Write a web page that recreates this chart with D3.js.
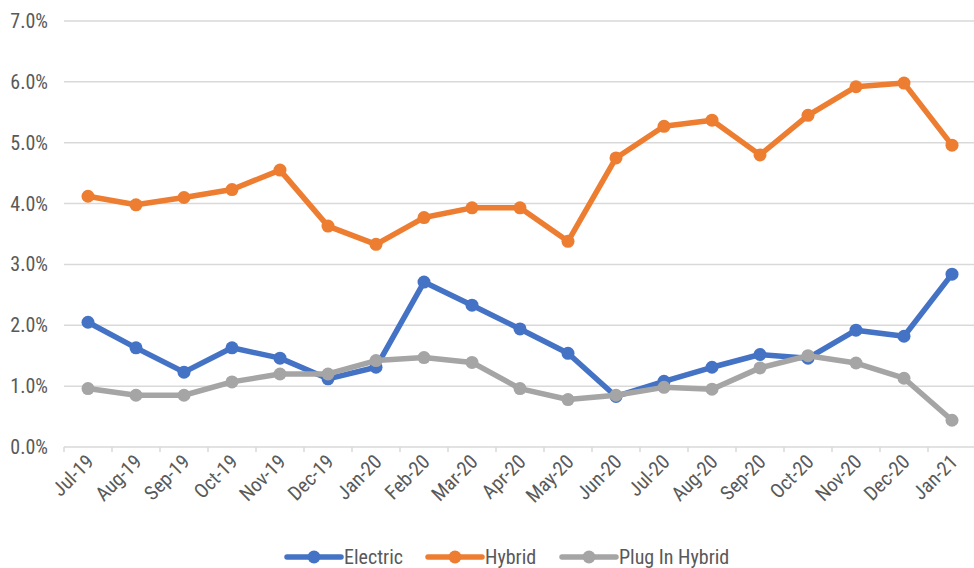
<!DOCTYPE html>
<html lang="en">
<head>
<meta charset="UTF-8">
<title>EV share</title>
<style>
  body { margin: 0; background: #fff; }
  svg text { font-family: "Liberation Sans Narrow", "Roboto Condensed", sans-serif; fill: #595959; }
</style>
</head>
<body>
<svg id="chart" width="974" height="568"></svg>
<script src="https://d3js.org/d3.v7.min.js"></script>
<script>
// months on the x axis
var months = ["Jul-19","Aug-19","Sep-19","Oct-19","Nov-19","Dec-19","Jan-20","Feb-20","Mar-20","Apr-20",
              "May-20","Jun-20","Jul-20","Aug-20","Sep-20","Oct-20","Nov-20","Dec-20","Jan-21"];

// share of sales, in percent
var electric = [2.05,1.63,1.23,1.63,1.46,1.12,1.31,2.71,2.33,1.94,1.54,0.83,1.08,1.31,1.52,1.46,1.92,1.82,2.84];
var hybrid   = [4.12,3.98,4.10,4.23,4.55,3.63,3.33,3.77,3.93,3.93,3.38,4.75,5.27,5.37,4.80,5.45,5.92,5.98,4.96];
var plugIn   = [0.96,0.85,0.85,1.07,1.20,1.20,1.42,1.47,1.39,0.96,0.78,0.85,0.98,0.95,1.30,1.50,1.38,1.13,0.44];

var yTicks = [0,1,2,3,4,5,6,7];

var series = [
  { name: "Electric", values: electric, color: "#4472C4" },
  { name: "Hybrid", values: hybrid, color: "#ED7D31" },
  { name: "Plug In Hybrid", values: plugIn, color: "#A5A5A5" }
];

var svg = d3.select("#chart");

var x = d3.scaleBand().domain(months).range([64, 976]);
var y = d3.scaleLinear().domain([0, 7]).range([447, 21]);

// gridlines
svg.append("g")
  .selectAll("line")
  .data(yTicks)
  .enter().append("line")
  .attr("x1", 64).attr("x2", 974)
  .attr("y1", function(d) { return y(d); })
  .attr("y2", function(d) { return y(d); })
  .attr("stroke", "#d9d9d9")
  .attr("stroke-width", 1.5);

// y labels
svg.append("g")
  .selectAll("text")
  .data(yTicks)
  .enter().append("text")
  .attr("x", 48)
  .attr("y", function(d) { return y(d) + 7; })
  .attr("text-anchor", "end")
  .attr("font-size", "20px")
  .text(function(d) { return d.toFixed(1) + "%"; });

// x tick marks at band edges
var edges = months.map(function(m) { return x(m); });
svg.append("g")
  .selectAll("line")
  .data(edges)
  .enter().append("line")
  .attr("x1", function(d) { return d; })
  .attr("x2", function(d) { return d; })
  .attr("y1", 447).attr("y2", 452)
  .attr("stroke", "#d9d9d9")
  .attr("stroke-width", 1.5);

// x labels, rotated
svg.append("g")
  .selectAll("text")
  .data(months)
  .enter().append("text")
  .attr("text-anchor", "end")
  .attr("font-size", "20px")
  .attr("transform", function(d) {
    var cx = x(d) + x.bandwidth() / 2 + 7;
    return "translate(" + cx + ",463) rotate(-45)";
  })
  .text(function(d) { return d; });

var line = d3.line()
  .x(function(d, i) { return x(months[i]) + x.bandwidth() / 2; })
  .y(function(d) { return y(d); });

// lines and markers
series.forEach(function(s) {
  svg.append("path")
    .datum(s.values)
    .attr("d", line)
    .attr("fill", "none")
    .attr("stroke", s.color)
    .attr("stroke-width", 5.5)
    .attr("stroke-linejoin", "round")
    .attr("stroke-linecap", "round");

  svg.append("g")
    .selectAll("circle")
    .data(s.values)
    .enter().append("circle")
    .attr("cx", function(d, i) { return x(months[i]) + x.bandwidth() / 2; })
    .attr("cy", function(d) { return y(d); })
    .attr("r", 6.5)
    .attr("fill", s.color);
});

// legend
var legendX = [287, 428, 562];
var legend = svg.append("g")
  .selectAll("g")
  .data(series)
  .enter().append("g")
  .attr("transform", function(d, i) { return "translate(" + legendX[i] + ",557)"; });

legend.append("line")
  .attr("x1", 0).attr("x2", 54)
  .attr("stroke", function(d) { return d.color; })
  .attr("stroke-width", 5.5)
  .attr("stroke-linecap", "round");

legend.append("circle")
  .attr("cx", 27).attr("r", 6.5)
  .attr("fill", function(d) { return d.color; });

legend.append("text")
  .attr("x", 57)
  .attr("y", 7)
  .attr("font-size", "20px")
  .text(function(d) { return d.name; });
</script>
</body>
</html>
